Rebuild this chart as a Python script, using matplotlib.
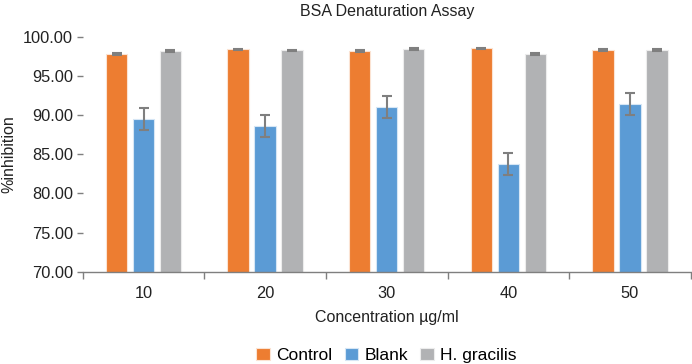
import matplotlib.pyplot as plt
import numpy as np

plt.rcParams['font.family'] = ['Liberation Sans', 'DejaVu Sans']

concentrations = ['10', '20', '30', '40', '50']
control = [97.79, 98.39, 98.20, 98.50, 98.30]
blank = [89.45, 88.60, 91.06, 83.78, 91.44]
gracilis = [98.20, 98.26, 98.40, 97.83, 98.30]
control_err = [0.1, 0.1, 0.1, 0.1, 0.1]
blank_err = [1.4, 1.4, 1.4, 1.4, 1.4]
gracilis_err = [0.1, 0.1, 0.1, 0.1, 0.1]

fig = plt.figure(figsize=(6.92, 3.64), dpi=100)
ax = fig.add_axes([0.1195, 0.2535, 0.8787, 0.6456])

x = np.arange(len(concentrations))
w = 0.175
step = 0.222
err_kw = dict(ecolor='#7f7f7f', elinewidth=1.5, capsize=3.3, capthick=1.5)
ax.bar(x - step, control, w, yerr=control_err, color='#ED7D31', edgecolor='#fbe3d3',
       linewidth=0.8, label='Control', error_kw=err_kw, zorder=2)
ax.bar(x, blank, w, yerr=blank_err, color='#5B9BD5', edgecolor='#d6e6f5',
       linewidth=0.8, label='Blank', error_kw=err_kw, zorder=2)
ax.bar(x + step, gracilis, w, yerr=gracilis_err, color='#B1B2B4', edgecolor='#ececec',
       linewidth=0.8, label='H. gracilis', error_kw=err_kw, zorder=2)

ax.set_xlim(-0.5, len(concentrations) - 0.5)
ax.set_ylim(70, 100)
ax.set_yticks(np.arange(70, 100.1, 5))
ax.set_yticklabels(['%.2f' % v for v in np.arange(70, 100.1, 5)], fontsize=11.8, color='#222222')
ax.set_xticks(x)
ax.set_xticklabels(concentrations, fontsize=11.8, color='#222222')
ax.set_xticks(np.arange(-0.5, len(concentrations)), minor=True)
ax.tick_params(axis='x', which='major', length=0, pad=10)
ax.tick_params(axis='x', which='minor', length=5, color='#7f7f7f', width=1)
ax.tick_params(axis='y', length=4, color='#7f7f7f', width=1, pad=3)

for s in ['top', 'right', 'left']:
    ax.spines[s].set_visible(False)
ax.spines['bottom'].set_color('#7f7f7f')
ax.spines['bottom'].set_linewidth(1)

ax.set_title('BSA Denaturation Assay', fontsize=11.5, color='#222222', pad=15)
ax.set_xlabel('Concentration µg/ml', fontsize=11.5, color='#222222', labelpad=7)
ax.set_ylabel('%inhibition', fontsize=11.5, color='#222222', labelpad=5)

ax.legend(loc='lower center', bbox_to_anchor=(0.5, -0.44), ncol=3, frameon=False,
          fontsize=12.5, handlelength=0.75, handleheight=0.75, handletextpad=0.4,
          columnspacing=0.7, borderpad=0.2)

fig.savefig('out.png', dpi=100)
